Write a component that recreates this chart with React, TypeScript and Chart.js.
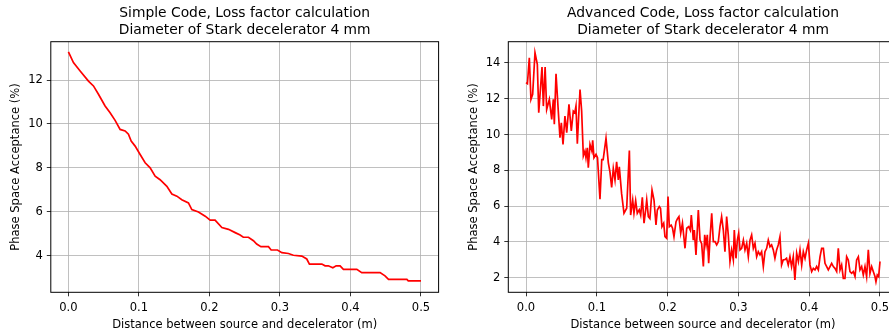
import React, { useEffect, useRef } from "react";
import { Chart, registerables } from "chart.js";
Chart.register(...registerables);

// ---------- data ----------
const simpleX = [0, 0.0071, 0.0166, 0.0284, 0.0355, 0.0426, 0.052, 0.0591, 0.0662, 0.0733, 0.0804, 0.0851, 0.089, 0.0946, 0.1017, 0.1088, 0.1159, 0.123, 0.13, 0.1396, 0.1467, 0.1538, 0.1608, 0.1702, 0.175, 0.1844, 0.194, 0.201, 0.208, 0.2176, 0.227, 0.2365, 0.2435, 0.248, 0.2553, 0.2624, 0.267, 0.273, 0.2837, 0.2875, 0.2965, 0.3027, 0.312, 0.319, 0.331, 0.338, 0.3418, 0.3594, 0.364, 0.3686, 0.375, 0.3797, 0.3853, 0.39, 0.409, 0.416, 0.442, 0.449, 0.454, 0.48, 0.482, 0.5];
const simpleY = [13.28, 12.79, 12.41, 11.95, 11.73, 11.35, 10.82, 10.51, 10.16, 9.75, 9.68, 9.53, 9.22, 8.99, 8.61, 8.23, 8.0, 7.62, 7.46, 7.16, 6.81, 6.71, 6.55, 6.4, 6.1, 5.99, 5.8, 5.62, 5.62, 5.28, 5.2, 5.05, 4.94, 4.84, 4.84, 4.68, 4.53, 4.41, 4.41, 4.26, 4.26, 4.14, 4.1, 4.02, 3.98, 3.85, 3.62, 3.62, 3.54, 3.54, 3.45, 3.54, 3.54, 3.38, 3.38, 3.23, 3.23, 3.08, 2.92, 2.92, 2.85, 2.85];

const advX = [0, 0.002, 0.0047, 0.007, 0.0094, 0.0127, 0.016, 0.018, 0.0226, 0.0245, 0.027, 0.0292, 0.033, 0.0363, 0.0386, 0.04, 0.0424, 0.0456, 0.048, 0.0499, 0.0523, 0.055, 0.0575, 0.0607, 0.064, 0.0668, 0.069, 0.0706, 0.0725, 0.0763, 0.0786, 0.081, 0.0833, 0.0847, 0.0866, 0.088, 0.0904, 0.093, 0.0942, 0.096, 0.0989, 0.101, 0.1045, 0.107, 0.109, 0.113, 0.1163, 0.1186, 0.121, 0.1233, 0.1257, 0.128, 0.1304, 0.1318, 0.135, 0.1384, 0.1422, 0.146, 0.1478, 0.1507, 0.1525, 0.1549, 0.1572, 0.16, 0.162, 0.1643, 0.1667, 0.169, 0.1705, 0.1728, 0.175, 0.178, 0.1808, 0.1836, 0.1855, 0.1883, 0.19, 0.192, 0.1945, 0.1963, 0.1987, 0.2006, 0.2024, 0.205, 0.207, 0.209, 0.2119, 0.214, 0.216, 0.2185, 0.221, 0.2246, 0.227, 0.2298, 0.232, 0.2335, 0.2363, 0.2377, 0.2401, 0.2434, 0.2458, 0.2481, 0.2505, 0.2524, 0.2543, 0.2561, 0.258, 0.2599, 0.2623, 0.2646, 0.267, 0.2693, 0.2716, 0.274, 0.2763, 0.2787, 0.281, 0.2834, 0.2857, 0.2881, 0.2904, 0.2928, 0.2942, 0.2966, 0.2985, 0.3004, 0.3023, 0.3046, 0.307, 0.3093, 0.3117, 0.314, 0.3164, 0.3187, 0.3211, 0.3234, 0.3258, 0.3281, 0.3305, 0.3328, 0.3352, 0.3375, 0.3399, 0.3422, 0.3446, 0.3469, 0.3493, 0.3516, 0.354, 0.3563, 0.3587, 0.361, 0.3634, 0.3657, 0.368, 0.3704, 0.3728, 0.3751, 0.3775, 0.3798, 0.3823, 0.3847, 0.387, 0.3894, 0.3917, 0.3941, 0.3964, 0.3988, 0.4011, 0.4035, 0.4058, 0.4082, 0.4105, 0.4129, 0.4153, 0.4176, 0.42, 0.4223, 0.4247, 0.427, 0.4294, 0.4317, 0.4341, 0.4364, 0.4388, 0.4411, 0.4435, 0.4458, 0.4482, 0.4505, 0.4529, 0.4552, 0.4576, 0.46, 0.4623, 0.4647, 0.467, 0.4694, 0.4717, 0.4741, 0.4764, 0.4788, 0.4811, 0.4835, 0.4858, 0.4882, 0.4905, 0.4929, 0.4943, 0.4962, 0.4981, 0.5];
const advY = [12.9, 12.84, 14.29, 11.97, 12.25, 14.57, 13.92, 11.22, 13.77, 11.59, 13.77, 11.4, 11.97, 10.85, 11.97, 10.57, 13.4, 11.31, 9.82, 10.66, 9.45, 11.03, 10.1, 11.69, 10.2, 11.31, 11.22, 11.59, 9.49, 12.52, 11.31, 8.8, 9.08, 8.7, 9.26, 8.15, 9.45, 9.08, 9.68, 8.7, 8.89, 8.7, 6.38, 8.6, 8.6, 9.79, 8.42, 7.9, 7.05, 8.1, 7.46, 8.48, 7.46, 8.2, 6.71, 5.6, 5.88, 9.1, 5.5, 6.34, 5.6, 6.3, 5.6, 5.8, 5.5, 6.49, 5.04, 5.78, 6.34, 5.41, 5.3, 6.9, 6.34, 4.94, 5.78, 5.97, 5.88, 4.85, 5.04, 4.29, 4.2, 6.53, 4.85, 4.94, 4.76, 4.29, 5.13, 5.3, 5.41, 4.48, 5.04, 3.64, 4.76, 4.85, 4.66, 5.5, 4.1, 4.66, 3.27, 5.78, 4.1, 3.9, 2.62, 4.39, 3.83, 4.39, 2.8, 4.2, 5.6, 4.01, 4.01, 3.83, 4.0, 4.85, 5.41, 4.66, 3.45, 5.41, 4.39, 2.9, 3.55, 3.0, 4.66, 3.08, 4.1, 4.48, 3.55, 3.64, 4.1, 3.55, 3.92, 3.17, 4.1, 4.39, 3.64, 3.92, 3.17, 3.45, 3.27, 3.45, 2.62, 3.45, 3.64, 4.1, 3.73, 3.83, 3.55, 3.08, 3.55, 3.83, 4.29, 2.71, 3.0, 3.0, 3.08, 2.71, 3.17, 2.62, 3.17, 1.87, 3.36, 2.9, 3.55, 2.71, 3.45, 3.08, 3.55, 3.92, 2.71, 2.34, 2.52, 2.43, 2.62, 2.43, 3.17, 3.64, 3.64, 2.8, 2.62, 2.43, 2.62, 2.8, 2.62, 2.52, 2.34, 3.64, 2.43, 2.71, 1.96, 1.96, 3.17, 2.99, 2.34, 2.24, 2.34, 2.06, 2.99, 3.17, 2.43, 2.62, 2.15, 2.62, 2.06, 3.55, 2.24, 2.62, 2.34, 2.06, 1.77, 2.15, 2.06, 2.9];

const xTicks = [0, 0.1, 0.2, 0.3, 0.4, 0.5];
const simpleYTicks = [4, 6, 8, 10, 12];
const advYTicks = [2, 4, 6, 8, 10, 12, 14];
const simpleTitle = ["Simple Code, Loss factor calculation", "Diameter of Stark decelerator 4 mm"];
const advTitle = ["Advanced Code, Loss factor calculation", "Diameter of Stark decelerator 4 mm"];
const xLabel = "Distance between source and decelerator (m)";
const yLabel = "Phase Space Acceptance (%)";

// ---------- styling ----------
const FONT = "'DejaVu Sans', sans-serif";
const LABEL_SIZE = 11.54;
const TITLE_SIZE = 13.85;
const H = 335;
const AREA_TOP = 41.7;
const AREA_BOTTOM = 292.3;

const framePlugin = {
  id: "frame",
  afterDraw(chart: any) {
    const { ctx, chartArea: a } = chart;
    ctx.save();
    ctx.strokeStyle = "#000";
    ctx.lineWidth = 1;
    ctx.strokeRect(a.left, a.top, a.right - a.left, a.bottom - a.top);
    ctx.restore();
  },
};

type PanelProps = {
  xs: number[];
  ys: number[];
  title: string[];
  yTicks: number[];
  yMin: number;
  yMax: number;
  left: number;
  canvasWidth: number;
  areaLeft: number;
  areaWidth: number;
  yTitlePad: number;
};

function Panel(p: PanelProps) {
  const ref = useRef<HTMLCanvasElement>(null);
  useEffect(() => {
    if (!ref.current) return;
    const tickFont = { family: FONT, size: LABEL_SIZE, lineHeight: 1.2 };
    const grid = {
      color: "#b0b0b0",
      lineWidth: 0.8,
      tickColor: "#000",
      tickLength: 4,
      drawTicks: true,
    };
    const titleLineH = TITLE_SIZE * 1.2;
    const chart = new Chart(ref.current, {
      type: "line",
      data: {
        datasets: [
          {
            data: p.xs.map((x, i) => ({ x, y: p.ys[i] })),
            borderColor: "#ff0000",
            borderWidth: 1.7,
            pointRadius: 0,
            fill: false,
            tension: 0,
          },
        ],
      },
      options: {
        animation: false,
        responsive: false,
        maintainAspectRatio: false,
        events: [],
        layout: {
          padding: {
            left: 0,
            right: p.canvasWidth - p.areaLeft - p.areaWidth,
            top: 0,
            bottom: 0,
          },
        },
        plugins: {
          legend: { display: false },
          tooltip: { enabled: false },
          title: {
            display: true,
            text: p.title,
            color: "#000",
            fullSize: false,
            font: { family: FONT, size: TITLE_SIZE, weight: "normal", lineHeight: 1.2 },
            padding: { top: 5.5, bottom: AREA_TOP - 5.5 - 2 * titleLineH },
          },
        },
        scales: {
          x: {
            type: "linear",
            min: -0.025,
            max: 0.525,
            afterBuildTicks: (s: any) => {
              s.ticks = xTicks.map((v) => ({ value: v }));
            },
            afterFit: (s: any) => {
              s.height = H - AREA_BOTTOM;
            },
            ticks: {
              font: tickFont,
              color: "#000",
              padding: 5,
              maxRotation: 0,
              autoSkip: false,
              callback: (v: any) => Number(v).toFixed(1),
            },
            grid,
            border: { display: false },
            title: {
              display: true,
              text: xLabel,
              color: "#000",
              font: tickFont,
              padding: { top: 0, bottom: 3.5 },
            },
          },
          y: {
            type: "linear",
            min: p.yMin,
            max: p.yMax,
            afterBuildTicks: (s: any) => {
              s.ticks = p.yTicks.map((v) => ({ value: v }));
            },
            afterFit: (s: any) => {
              s.width = p.areaLeft;
            },
            ticks: {
              font: tickFont,
              color: "#000",
              padding: 4,
              autoSkip: false,
              callback: (v: any) => String(v),
            },
            grid,
            border: { display: false },
            title: {
              display: true,
              text: yLabel,
              color: "#000",
              font: tickFont,
              padding: { top: p.yTitlePad, bottom: 0 },
            },
          },
        },
      },
      plugins: [framePlugin],
    } as any);
    return () => chart.destroy();
  }, []);
  return (
    <canvas
      ref={ref}
      width={p.canvasWidth}
      height={H}
      style={{ position: "absolute", left: p.left, top: 0, width: p.canvasWidth, height: H }}
    />
  );
}

export default function App() {
  return (
    <div
      style={{
        position: "fixed",
        left: 0,
        top: 0,
        width: 889,
        height: 335,
        overflow: "hidden",
        background: "#fff",
      }}
    >
      <Panel
        xs={simpleX}
        ys={simpleY}
        title={simpleTitle}
        yTicks={simpleYTicks}
        yMin={2.333}
        yMax={13.744}
        left={0}
        canvasWidth={452}
        areaLeft={50.8}
        areaWidth={387.8}
        yTitlePad={9}
      />
      <Panel
        xs={advX}
        ys={advY}
        title={advTitle}
        yTicks={advYTicks}
        yMin={1.18}
        yMax={15.19}
        left={457}
        canvasWidth={460}
        areaLeft={51.3}
        areaWidth={389.4}
        yTitlePad={10}
      />
    </div>
  );
}
